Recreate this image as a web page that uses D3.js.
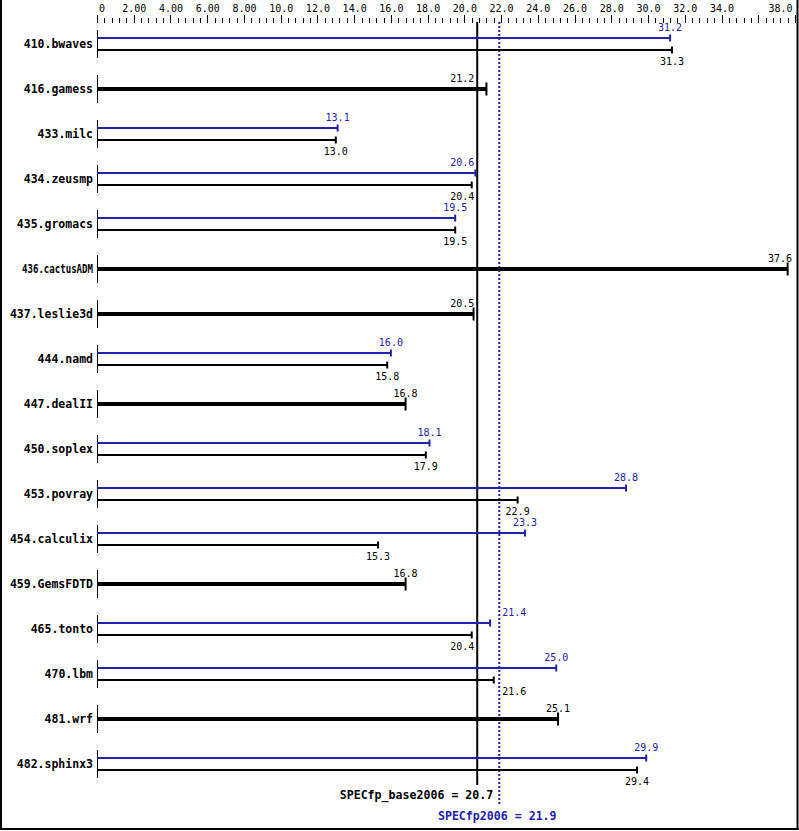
<!DOCTYPE html>
<html>
<head>
<meta charset="utf-8">
<script src="https://cdn.jsdelivr.net/npm/d3@7"></script>
<style>
html,body{margin:0;padding:0;background:#fff;}
svg{display:block;}
text{font-family:"DejaVu Sans Mono",monospace;}
</style>
</head>
<body>
<svg id="chart" width="799" height="831"></svg>
<script>
const benchmarks = ["410.bwaves","416.gamess","433.milc","434.zeusmp","435.gromacs","436.cactusADM","437.leslie3d","444.namd","447.dealII","450.soplex","453.povray","454.calculix","459.GemsFDTD","465.tonto","470.lbm","481.wrf","482.sphinx3"];
const baseValues = [31.3,21.2,13.0,20.4,19.5,37.6,20.5,15.8,16.8,17.9,22.9,15.3,16.8,20.4,21.6,25.1,29.4];
const peakValues = [31.2,null,13.1,20.6,19.5,null,null,16.0,null,18.1,28.8,23.3,null,21.4,25.0,null,29.9];
const baseMean = 20.7;
const peakMean = 21.9;
const majorTicks = [0,2,4,6,8,10,12,14,16,18,20,22,24,26,28,30,32,34,36,38];
const tickLabels = ["0","2.00","4.00","6.00","8.00","10.0","12.0","14.0","16.0","18.0","20.0","22.0","24.0","26.0","28.0","30.0","32.0","34.0","","38.0"];
const baseLabel = "SPECfp_base2006";
const peakLabel = "SPECfp2006";

const BLUE = "#2222aa";
const svg = d3.select("#chart");

const x = d3.scaleLinear().domain([0,38]).range([97,795]);
const rowY = d3.scalePoint().domain(benchmarks).range([44, 44 + 45*(benchmarks.length-1)]);

// frame
svg.append("line").attr("x1",1).attr("x2",1).attr("y1",0).attr("y2",830).attr("stroke","#000").attr("stroke-width",2);
svg.append("line").attr("x1",797.5).attr("x2",797.5).attr("y1",0).attr("y2",830).attr("stroke","#000").attr("stroke-width",2);
svg.append("line").attr("x1",0).attr("x2",799).attr("y1",829).attr("y2",829).attr("stroke","#000").attr("stroke-width",2);

// top axis
const axisY = 22.5;
const minorVals = d3.range(0, 38.001, 0.4).filter(v => Math.abs(v/2 - Math.round(v/2)) > 1e-6);
const gMinor = svg.append("g").attr("transform",`translate(0,${axisY})`)
  .call(d3.axisTop(x).tickValues(minorVals).tickSize(5).tickFormat(""));
gMinor.select(".domain").remove();
const gMajor = svg.append("g").attr("transform",`translate(0,${axisY})`)
  .call(d3.axisTop(x).tickValues(majorTicks).tickSize(8).tickPadding(2.5).tickFormat((d,i)=>tickLabels[i]));
gMajor.select(".domain").remove();
svg.selectAll(".tick line").attr("stroke","#000").attr("shape-rendering","crispEdges");
gMajor.selectAll(".tick text").attr("font-family","DejaVu Sans Mono, monospace").attr("font-size",10).attr("fill","#000");
gMajor.selectAll(".tick text").filter((d,i)=>i===0).attr("text-anchor","start").attr("dx",1.5);
gMajor.selectAll(".tick text").filter((d,i)=>i===majorTicks.length-1).attr("text-anchor","end").attr("dx",-3);

// mean lines
const bx = x(baseMean), px = x(peakMean);
svg.append("line").attr("x1",bx).attr("x2",bx).attr("y1",22).attr("y2",785).attr("stroke","#000").attr("stroke-width",2);
svg.append("line").attr("x1",px).attr("x2",px).attr("y1",22).attr("y2",805).attr("stroke",BLUE).attr("stroke-width",2).attr("stroke-dasharray","2,2");

function placeLabel(t, xe){
  const w = t.node().getComputedTextLength();
  let s = xe - w/2;
  const lo = bx - 2, hi = px + 2;
  if (s < hi && s + w > lo) {
    if (xe < (bx+px)/2) s = bx - 3 - w; else s = px + 3;
  }
  if (s + w > 794) s = 794 - w - 2;
  t.attr("x", s).attr("text-anchor","start");
}

const rows = svg.append("g");
benchmarks.forEach((b,i) => {
  const cy = rowY(b);
  const g = rows.append("g");
  // category label
  const lab = g.append("text").attr("x",93).attr("y",cy).attr("dy","0.35em").attr("text-anchor","end")
    .attr("font-weight","bold").attr("font-size",11.5).attr("fill","#000").text(b);
  if (lab.node().getComputedTextLength() > 86) {
    lab.attr("textLength",71).attr("lengthAdjust","spacingAndGlyphs");
  }
  // axis segment
  g.append("line").attr("x1",97.5).attr("x2",97.5).attr("y1",cy-14).attr("y2",cy+14).attr("stroke","#000").attr("stroke-width",1);
  const bv = baseValues[i], pv = peakValues[i];
  if (pv === null) {
    g.append("line").attr("x1",97).attr("x2",x(bv)).attr("y1",cy).attr("y2",cy).attr("stroke","#000").attr("stroke-width",4);
    g.append("line").attr("x1",x(bv)).attr("x2",x(bv)).attr("y1",cy-6.5).attr("y2",cy+6.5).attr("stroke","#000").attr("stroke-width",2);
    const t = g.append("text").attr("y",cy-10.5).attr("dy","0.35em").attr("font-size",10).attr("fill","#000").text(bv.toFixed(1));
    placeLabel(t, x(bv));
  } else {
    const yp = cy - 6, yb = cy + 6;
    g.append("line").attr("x1",97).attr("x2",x(pv)).attr("y1",yp).attr("y2",yp).attr("stroke",BLUE).attr("stroke-width",2);
    g.append("line").attr("x1",x(pv)).attr("x2",x(pv)).attr("y1",yp-3.5).attr("y2",yp+3.5).attr("stroke",BLUE).attr("stroke-width",2);
    g.append("line").attr("x1",97).attr("x2",x(bv)).attr("y1",yb).attr("y2",yb).attr("stroke","#000").attr("stroke-width",2);
    g.append("line").attr("x1",x(bv)).attr("x2",x(bv)).attr("y1",yb-3.5).attr("y2",yb+3.5).attr("stroke","#000").attr("stroke-width",2);
    const tp = g.append("text").attr("y",yp-11).attr("dy","0.35em").attr("font-size",10).attr("fill",BLUE).text(pv.toFixed(1));
    placeLabel(tp, x(pv));
    const tb = g.append("text").attr("y",yb+11).attr("dy","0.35em").attr("font-size",10).attr("fill","#000").text(bv.toFixed(1));
    placeLabel(tb, x(bv));
  }
});

// summary labels
svg.append("text").attr("x",px-6).attr("y",795).attr("dy","0.35em").attr("text-anchor","end")
  .attr("font-weight","bold").attr("font-size",11.6).attr("fill","#000").text(`${baseLabel} = ${baseMean.toFixed(1)}`);
svg.append("text").attr("x",px-2).attr("y",816).attr("dy","0.35em").attr("text-anchor","middle")
  .attr("font-weight","bold").attr("font-size",11.6).attr("fill",BLUE).text(`${peakLabel} = ${peakMean.toFixed(1)}`);
</script>
</body>
</html>
